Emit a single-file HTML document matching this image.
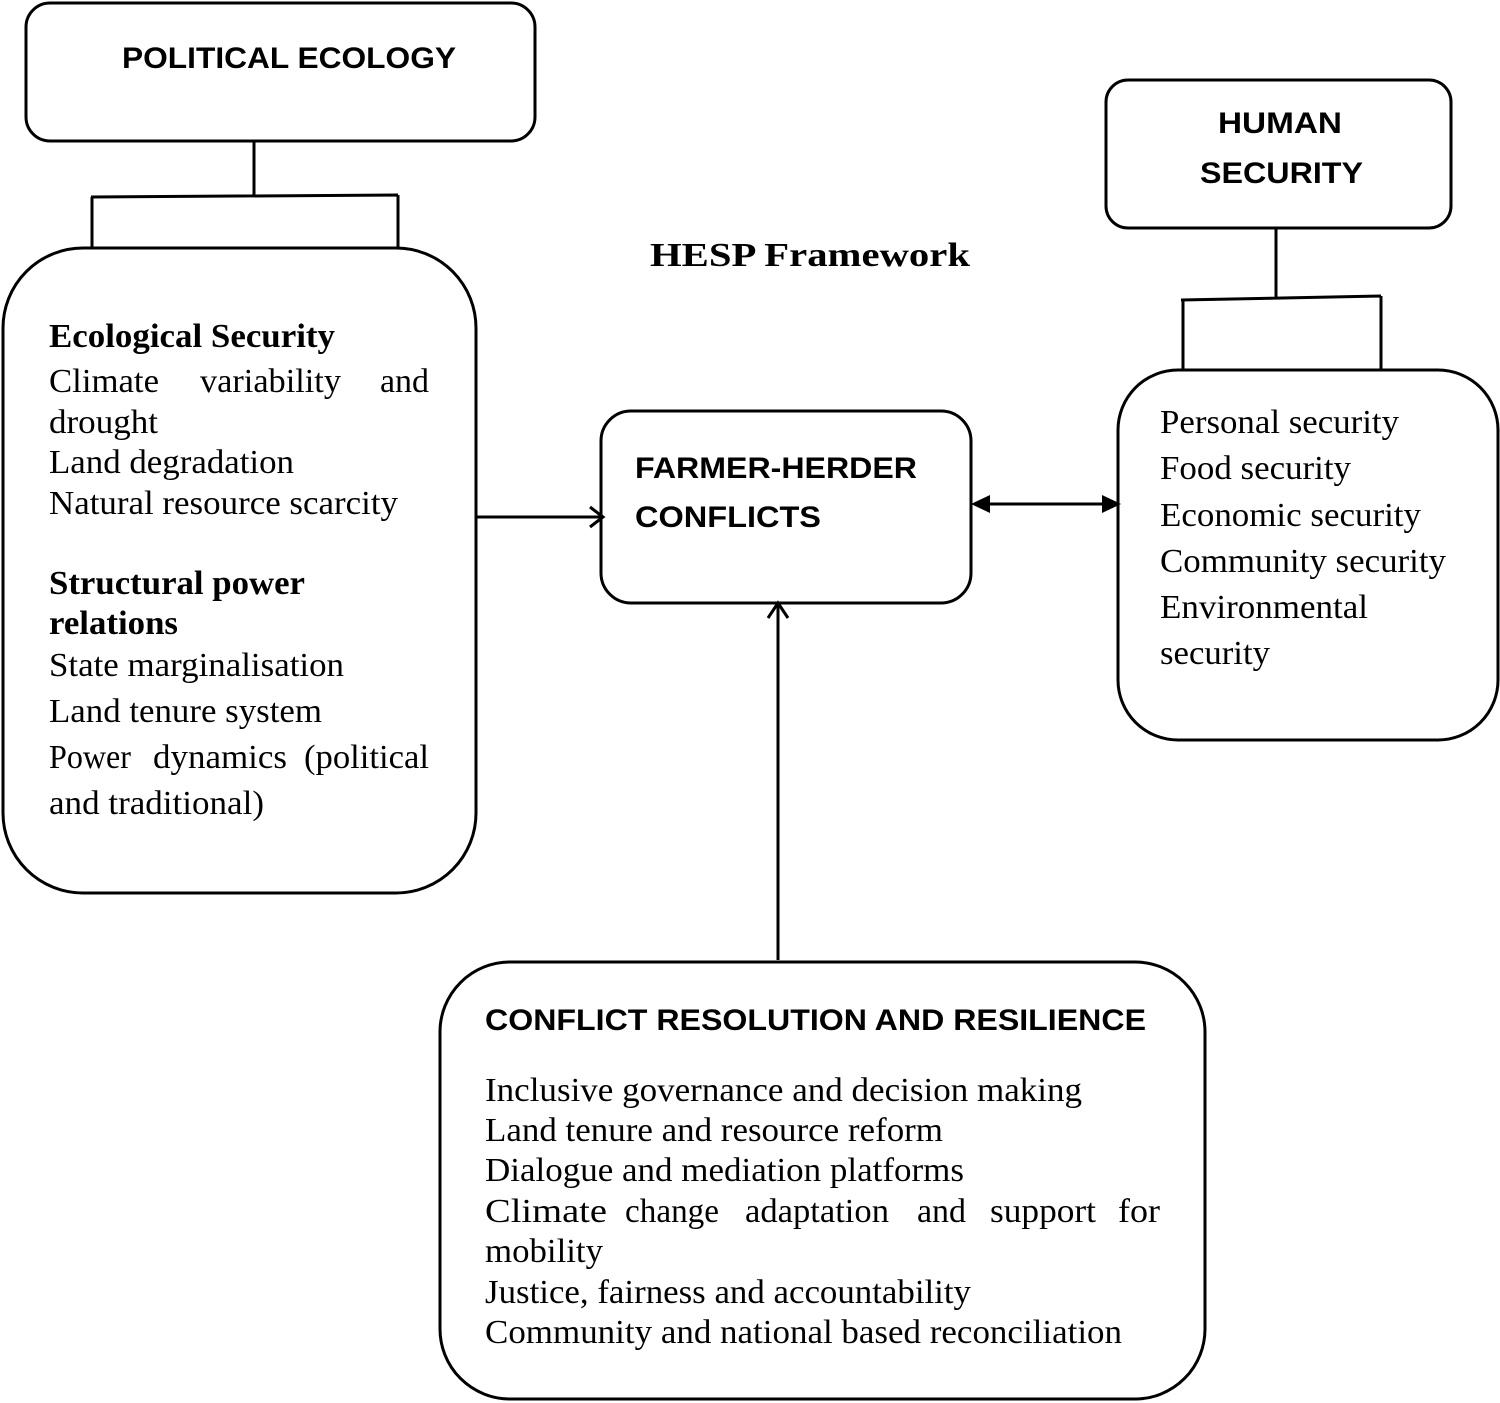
<!DOCTYPE html>
<html><head><meta charset="utf-8"><style>
html,body{margin:0;padding:0;background:#fff;}
svg{display:block;}
.s{font-family:"Liberation Serif",serif;font-size:34px;fill:#000;}
.sb{font-family:"Liberation Serif",serif;font-size:34px;font-weight:bold;fill:#000;}
.a{font-family:"Liberation Sans",sans-serif;font-size:30px;font-weight:bold;fill:#000;}
</style></head><body>
<svg width="1500" height="1403" viewBox="0 0 1500 1403" xmlns="http://www.w3.org/2000/svg">
<g fill="none" stroke="#000" stroke-width="3">
<rect x="26" y="3" width="509" height="138" rx="24"/>
<path d="M254 141V195M91 197L398 195M92 197V247M398 195V247"/>
<rect x="3" y="248" width="473" height="645" rx="80"/>
<rect x="601" y="411" width="370" height="192" rx="30"/>
<rect x="1106" y="80" width="345" height="148" rx="22"/>
<path d="M1276 228V297M1181 300L1381 296M1183 300V369M1381 296V369"/>
<rect x="1118" y="370" width="380" height="370" rx="60"/>
<rect x="440" y="962" width="765" height="437" rx="70"/>
<path d="M476 517H602M590 507L603 517L590 527"/>
<path d="M778 960V604M768 618L778 603L788 618"/>
<path d="M985 504H1106"/>
</g>
<polygon points="971,504 990,495 990,513" fill="#000"/>
<polygon points="1121,504 1102,495 1102,513" fill="#000"/>
<text class="a" x="122" y="68" textLength="334" lengthAdjust="spacingAndGlyphs">POLITICAL ECOLOGY</text>
<text class="a" x="1218" y="133" textLength="124" lengthAdjust="spacingAndGlyphs">HUMAN</text>
<text class="a" x="1200" y="183" textLength="163" lengthAdjust="spacingAndGlyphs">SECURITY</text>
<text class="sb" x="650" y="266" font-size="38" textLength="320" lengthAdjust="spacingAndGlyphs">HESP Framework</text>
<text class="sb" x="49" y="347" textLength="286" lengthAdjust="spacingAndGlyphs">Ecological Security</text>
<text class="s" x="49" y="392" textLength="110" lengthAdjust="spacingAndGlyphs">Climate</text>
<text class="s" x="200" y="392" textLength="141" lengthAdjust="spacingAndGlyphs">variability</text>
<text class="s" x="380" y="392" textLength="49" lengthAdjust="spacingAndGlyphs">and</text>
<text class="s" x="49" y="433" textLength="109" lengthAdjust="spacingAndGlyphs">drought</text>
<text class="s" x="49" y="473" textLength="245" lengthAdjust="spacingAndGlyphs">Land degradation</text>
<text class="s" x="49" y="514" textLength="349" lengthAdjust="spacingAndGlyphs">Natural resource scarcity</text>
<text class="sb" x="49" y="594" textLength="256" lengthAdjust="spacingAndGlyphs">Structural power</text>
<text class="sb" x="49" y="634" textLength="129" lengthAdjust="spacingAndGlyphs">relations</text>
<text class="s" x="49" y="676" textLength="295" lengthAdjust="spacingAndGlyphs">State marginalisation</text>
<text class="s" x="49" y="722" textLength="273" lengthAdjust="spacingAndGlyphs">Land tenure system</text>
<text class="s" x="49" y="768" textLength="82" lengthAdjust="spacingAndGlyphs">Power</text>
<text class="s" x="153" y="768" textLength="134" lengthAdjust="spacingAndGlyphs">dynamics</text>
<text class="s" x="304" y="768" textLength="125" lengthAdjust="spacingAndGlyphs">(political</text>
<text class="s" x="49" y="814" textLength="215" lengthAdjust="spacingAndGlyphs">and traditional)</text>
<text class="a" x="635" y="478" textLength="282" lengthAdjust="spacingAndGlyphs">FARMER-HERDER</text>
<text class="a" x="635" y="527" textLength="186" lengthAdjust="spacingAndGlyphs">CONFLICTS</text>
<text class="s" x="1160" y="433" textLength="239" lengthAdjust="spacingAndGlyphs">Personal security</text>
<text class="s" x="1160" y="479" textLength="191" lengthAdjust="spacingAndGlyphs">Food security</text>
<text class="s" x="1160" y="526" textLength="261" lengthAdjust="spacingAndGlyphs">Economic security</text>
<text class="s" x="1160" y="572" textLength="286" lengthAdjust="spacingAndGlyphs">Community security</text>
<text class="s" x="1160" y="618" textLength="208" lengthAdjust="spacingAndGlyphs">Environmental</text>
<text class="s" x="1160" y="664" textLength="110" lengthAdjust="spacingAndGlyphs">security</text>
<text class="a" x="485" y="1030" textLength="661" lengthAdjust="spacingAndGlyphs">CONFLICT RESOLUTION AND RESILIENCE</text>
<text class="s" x="485" y="1101" textLength="597" lengthAdjust="spacingAndGlyphs">Inclusive governance and decision making</text>
<text class="s" x="485" y="1141" textLength="458" lengthAdjust="spacingAndGlyphs">Land tenure and resource reform</text>
<text class="s" x="485" y="1181" textLength="479" lengthAdjust="spacingAndGlyphs">Dialogue and mediation platforms</text>
<text class="s" x="485" y="1222" textLength="122" lengthAdjust="spacingAndGlyphs">Climate</text>
<text class="s" x="625" y="1222" textLength="94" lengthAdjust="spacingAndGlyphs">change</text>
<text class="s" x="745" y="1222" textLength="144" lengthAdjust="spacingAndGlyphs">adaptation</text>
<text class="s" x="917" y="1222" textLength="49" lengthAdjust="spacingAndGlyphs">and</text>
<text class="s" x="990" y="1222" textLength="106" lengthAdjust="spacingAndGlyphs">support</text>
<text class="s" x="1118" y="1222" textLength="42" lengthAdjust="spacingAndGlyphs">for</text>
<text class="s" x="485" y="1262" textLength="118" lengthAdjust="spacingAndGlyphs">mobility</text>
<text class="s" x="485" y="1303" textLength="486" lengthAdjust="spacingAndGlyphs">Justice, fairness and accountability</text>
<text class="s" x="485" y="1343" textLength="637" lengthAdjust="spacingAndGlyphs">Community and national based reconciliation</text>
</svg>
</body></html>
